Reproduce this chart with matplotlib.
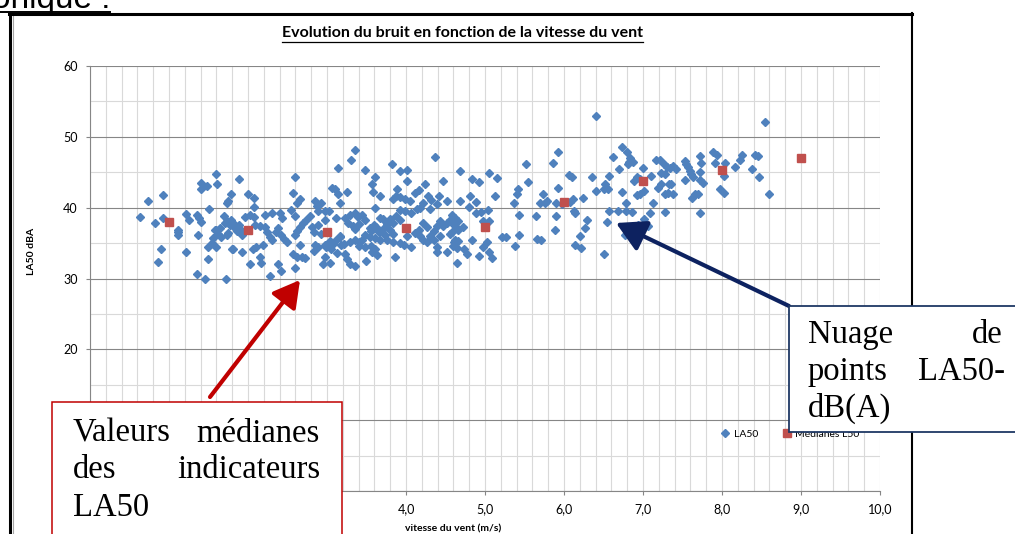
import matplotlib
matplotlib.use('Agg')
import matplotlib.pyplot as plt
from matplotlib.patches import Rectangle, FancyArrowPatch
from matplotlib.lines import Line2D
from matplotlib.ticker import MultipleLocator

# Nuage de points LA50 : (vitesse du vent m/s, LA50 dBA)
points_la50 = [
    (0.63, 38.7), (0.73, 40.9), (0.82, 37.8), (0.86, 32.4), (0.90, 34.2), (0.92, 41.8), (0.93, 38.5),
    (1.12, 36.9), (1.12, 36.5), (1.12, 36.1), (1.21, 33.8), (1.22, 39.1), (1.25, 38.2), (1.35, 39.0),
    (1.38, 38.5), (1.40, 38.0), (1.37, 36.2), (1.35, 30.6), (1.46, 29.9), (1.41, 43.5), (1.48, 43.1),
    (1.41, 42.6), (1.60, 44.7), (1.61, 43.3), (1.50, 39.8), (1.49, 32.7), (1.54, 35.0), (1.49, 34.5),
    (1.60, 34.4), (1.80, 34.2), (1.60, 36.9), (1.62, 36.3), (1.66, 35.8), (1.75, 36.4), (1.69, 38.8),
    (1.73, 38.1), (1.79, 38.3), (1.79, 42.0), (1.75, 40.9), (1.73, 40.6), (1.72, 30.0), (1.56, 35.7),
    (1.64, 37.2), (1.58, 36.8), (1.71, 37.9), (1.77, 37.6), (1.81, 37.9), (1.83, 37.2), (1.86, 36.7),
    (1.89, 37.6), (1.92, 36.2), (1.74, 36.2), (1.81, 34.2), (1.92, 33.7), (1.88, 44.1), (2.00, 42.0),
    (2.07, 41.3), (2.07, 40.1), (1.96, 38.7), (2.03, 38.9), (2.07, 38.7), (1.92, 36.7),
    # 2 - 3.2 m/s
    (2.03, 32.1), (2.06, 34.1), (2.10, 34.4), (2.15, 33.1), (2.16, 32.2), (2.19, 34.7), (2.21, 37.3),
    (2.24, 36.6), (2.28, 35.9), (2.30, 35.4), (2.28, 30.4), (2.31, 39.2), (2.41, 39.3), (2.43, 38.6),
    (2.38, 37.2), (2.36, 36.6), (2.42, 36.1), (2.46, 35.6), (2.49, 35.2), (2.38, 32.1), (2.42, 31.0),
    (2.54, 39.7), (2.57, 42.1), (2.59, 44.4), (2.62, 40.7), (2.66, 41.2), (2.59, 38.8), (2.59, 36.1),
    (2.62, 36.7), (2.66, 37.3), (2.70, 37.9), (2.74, 38.3), (2.79, 38.8), (2.81, 37.3), (2.66, 34.7),
    (2.57, 33.4), (2.62, 33.1), (2.68, 33.0), (2.72, 32.9), (2.59, 31.5), (2.85, 40.9), (2.87, 40.3),
    (2.92, 40.6), (2.89, 39.6), (2.97, 39.5), (3.03, 39.5), (2.97, 38.3), (3.11, 38.6), (2.88, 37.5),
    (2.83, 36.5), (2.92, 36.3), (2.85, 34.8), (2.89, 34.5), (2.83, 33.9), (2.97, 34.8), (3.04, 35.3),
    (2.99, 34.5), (3.05, 34.2), (3.07, 34.9), (3.11, 35.4), (3.16, 35.8), (3.18, 34.8), (2.97, 33.1),
    (2.95, 32.0), (3.04, 32.2), (3.13, 33.6), (3.06, 42.8), (3.10, 42.6), (3.14, 42.0), (3.16, 40.6),
    (3.14, 45.6), (2.09, 37.6), (2.15, 37.4), (2.22, 39.0),
    # 3.2 - 4.6 m/s
    (3.35, 48.1), (3.30, 46.7), (3.48, 45.3), (3.61, 44.4), (3.57, 43.4), (3.25, 42.2), (3.58, 42.2),
    (3.67, 41.6), (3.61, 40.0), (3.82, 46.1), (3.92, 45.2), (4.01, 45.3), (4.01, 43.7), (3.89, 42.6),
    (3.84, 41.2), (3.87, 41.6), (3.93, 41.5), (3.99, 41.2), (4.05, 41.0), (4.11, 42.1), (4.16, 42.5),
    (4.24, 43.3), (4.37, 47.1), (4.47, 43.8), (4.28, 41.6), (4.32, 41.1), (4.42, 41.7), (4.52, 40.9),
    (4.39, 40.5), (4.22, 40.6), (4.18, 40.0), (4.14, 39.8), (4.31, 39.8), (3.92, 39.7), (3.99, 39.5),
    (4.06, 39.3), (3.87, 38.8), (3.92, 38.3), (3.23, 38.6), (3.29, 39.0), (3.35, 39.2), (3.39, 38.7),
    (3.44, 39.0), (3.27, 37.9), (3.33, 37.4), (3.35, 37.0), (3.41, 37.7), (3.48, 38.2), (3.67, 38.6),
    (3.71, 38.4), (3.80, 38.4), (3.76, 37.7), (3.84, 37.9), (3.59, 37.6), (3.62, 37.3), (3.54, 37.2),
    (3.56, 36.7), (3.66, 36.6), (3.71, 37.0), (3.80, 36.9), (3.84, 36.3), (3.74, 36.1), (3.67, 35.5),
    (3.61, 35.7), (3.54, 35.9), (3.48, 36.2), (3.44, 35.5), (3.40, 35.1), (3.35, 35.5), (3.29, 35.1),
    (3.22, 34.9), (3.16, 36.0), (3.41, 34.6), (3.48, 34.4), (3.56, 34.6), (3.61, 34.2), (3.57, 33.7),
    (3.63, 33.3), (3.23, 33.4), (3.25, 32.7), (3.29, 32.0), (3.35, 31.7), (3.49, 32.5), (3.86, 33.1),
    (3.76, 35.5), (3.84, 35.1), (3.92, 35.0), (4.01, 36.0), (3.97, 34.7), (4.06, 34.5), (4.11, 36.4),
    (4.16, 36.9), (4.22, 37.8), (4.26, 37.3), (4.18, 36.0), (4.22, 35.5), (4.26, 35.1), (4.31, 36.0),
    (4.35, 36.7), (4.39, 37.4), (4.43, 38.1), (4.47, 37.4), (4.52, 37.9), (4.56, 38.3), (4.58, 38.9),
    (4.39, 34.5), (4.39, 33.8), (4.52, 33.8), (4.35, 35.5), (4.43, 36.0), (4.56, 36.3), (4.61, 35.1),
    # 4.6 - 6 m/s
    (4.68, 45.2), (4.84, 44.1), (4.92, 43.6), (5.05, 44.9), (5.15, 44.2), (5.52, 46.2), (5.86, 46.3),
    (5.92, 47.8), (5.54, 43.6), (5.92, 42.8), (5.42, 42.7), (5.40, 42.0), (5.37, 40.7), (5.13, 41.6),
    (4.81, 41.6), (4.89, 40.8), (4.80, 40.1), (4.68, 40.9), (4.89, 39.3), (4.95, 39.4), (5.04, 39.7),
    (5.73, 42.0), (5.70, 40.7), (5.76, 40.7), (5.78, 41.0), (5.90, 40.7), (5.43, 39.0), (5.65, 38.8),
    (5.90, 38.8), (4.62, 38.6), (4.66, 38.1), (4.60, 37.7), (4.64, 37.2), (4.72, 37.3), (4.58, 36.6),
    (4.66, 36.9), (4.98, 38.1), (5.05, 38.1), (4.62, 35.5), (4.66, 35.3), (4.83, 35.4), (5.03, 35.1),
    (4.60, 34.6), (4.64, 34.3), (4.73, 34.1), (4.77, 33.4), (4.98, 34.4), (5.05, 33.8), (4.92, 33.2),
    (5.09, 32.9), (4.64, 32.2), (5.21, 35.8), (5.26, 35.9), (5.43, 36.1), (5.38, 34.6), (5.66, 35.6),
    (5.71, 35.4), (5.89, 36.8),
    # 6 - 7.4 m/s
    (6.41, 52.9), (6.74, 48.5), (6.80, 47.9), (6.62, 47.1), (6.83, 47.0), (6.82, 46.5), (6.87, 46.5),
    (6.81, 46.1), (6.69, 45.5), (7.00, 45.6), (7.17, 46.7), (7.22, 46.7), (7.26, 46.2), (7.30, 45.8),
    (7.34, 45.6), (7.23, 44.9), (7.28, 44.7), (7.10, 44.5), (6.92, 44.3), (6.88, 43.7), (6.96, 44.0),
    (6.06, 44.6), (6.10, 44.3), (6.35, 44.3), (6.57, 44.5), (6.52, 43.4), (6.50, 42.6), (6.41, 42.4),
    (6.56, 42.6), (6.73, 42.2), (6.92, 41.8), (6.96, 41.9), (7.01, 42.3), (7.19, 42.8), (7.23, 43.3),
    (7.33, 43.3), (7.28, 41.9), (7.32, 42.1), (6.12, 41.2), (6.08, 40.8), (6.24, 41.3), (6.13, 39.5),
    (6.14, 39.3), (5.97, 40.5), (6.29, 38.2), (6.26, 37.1), (6.20, 36.0), (6.14, 34.7), (6.22, 34.3),
    (6.50, 33.5), (6.57, 39.6), (6.68, 39.6), (6.78, 40.7), (6.78, 39.6), (6.86, 39.4), (6.54, 38.0),
    (7.13, 40.7), (7.09, 39.2), (7.28, 39.4), (7.01, 38.4), (6.94, 37.5), (7.06, 37.4), (6.77, 36.2),
    # 7.4 - 8.6 m/s
    (8.55, 52.1), (7.38, 45.9), (7.42, 45.4), (7.53, 46.6), (7.55, 46.1), (7.57, 45.7), (7.59, 45.2),
    (7.61, 44.7), (7.63, 44.3), (7.53, 43.9), (7.72, 47.3), (7.74, 46.3), (7.72, 45.0), (7.72, 43.9),
    (7.76, 43.5), (7.89, 47.8), (7.94, 47.5), (7.91, 46.3), (8.04, 46.3), (8.02, 44.5), (8.16, 45.7),
    (8.23, 46.8), (8.25, 47.4), (8.38, 45.5), (8.42, 47.5), (8.46, 47.3), (8.47, 44.4), (8.60, 41.9),
    (7.36, 43.4), (7.38, 42.0), (7.66, 42.0), (7.70, 42.0), (7.62, 41.4), (7.97, 42.7), (8.03, 42.1),
    (7.72, 39.3),
]
vitesse = [p[0] for p in points_la50]
la50 = [p[1] for p in points_la50]

# Medianes L50 par classe de vitesse
mediane_vitesse = [1, 2, 3, 4, 5, 6, 7, 8, 9]
mediane_la50 = [38.0, 36.9, 36.5, 37.2, 37.3, 40.8, 43.8, 45.3, 47.0]

x_ticks = [0, 1, 2, 3, 4, 5, 6, 7, 8, 9, 10]
x_tick_labels = ['0,0', '1,0', '2,0', '3,0', '4,0', '5,0', '6,0', '7,0', '8,0', '9,0', '10,0']
y_ticks = [0, 10, 20, 30, 40, 50, 60]

W, H = 1015, 534  # taille de l'image en pixels


def fx(px):
    return px / W


def fy(py):
    return 1 - py / H


fig = plt.figure(figsize=(W / 100, H / 100), dpi=100)
fig.patch.set_facecolor('white')

ax = fig.add_axes([fx(90), fy(491), (880 - 90) / W, (491 - 66) / H])
ax.set_xlim(0, 10)
ax.set_ylim(0, 60)

# grille facon Excel
ax.xaxis.set_minor_locator(MultipleLocator(0.2))
ax.yaxis.set_minor_locator(MultipleLocator(5))
ax.grid(which='both', axis='x', color='#d9d9d9', lw=0.8)
ax.grid(which='minor', axis='y', color='#d9d9d9', lw=0.8)
ax.grid(which='major', axis='y', color='#868686', lw=0.8)
ax.set_axisbelow(True)
for s in ['top', 'right']:
    ax.spines[s].set_visible(False)
for s in ['left', 'bottom']:
    ax.spines[s].set_color('#868686')
    ax.spines[s].set_linewidth(0.8)

ax.set_xticks(x_ticks)
ax.set_xticklabels(x_tick_labels)
ax.set_yticks(y_ticks)
ax.set_yticklabels([str(v) for v in y_ticks])
ax.tick_params(which='major', length=3, color='#868686', labelsize=9, pad=6)
ax.tick_params(which='minor', length=0)
for lab in ax.get_xticklabels() + ax.get_yticklabels():
    lab.set_family('Lato')

l1, = ax.plot(vitesse, la50, linestyle='none', marker='D', ms=3.8, color='#4f81bd', label='LA50')
l2, = ax.plot(mediane_vitesse, mediane_la50, linestyle='none', marker='s', ms=6, color='#c0504d',
              label='Médianes L50')

ax.legend(handles=[l1, l2], loc='center left', bbox_to_anchor=(fx(719), fy(434)),
          bbox_transform=fig.transFigure, ncol=2, frameon=False,
          prop={'family': 'Lato', 'size': 7.5}, handlelength=1.2, handletextpad=0.2,
          columnspacing=2.2, borderpad=0, borderaxespad=0)

# titres des axes
fig.text(fx(453), fy(529), 'vitesse du vent (m/s)', ha='center', va='center',
         family='Lato', fontweight='bold', fontsize=7.5)
fig.text(fx(32), fy(251), 'LA50 dBA', ha='center', va='center', rotation=90,
         family='Lato', fontweight='bold', fontsize=7.5)

title = fig.text(fx(462), fy(33), 'Evolution du bruit en fonction de la vitesse du vent',
                 ha='center', va='center', family='Lato', fontweight='bold', fontsize=11.5)
head = fig.text(fx(110), fy(8), 'onique :', ha='right', va='baseline',
                family='Liberation Sans', fontsize=24)

# cadre du graphique
fig.add_artist(Line2D([fx(10), fx(10)], [fy(14), fy(540)], color='black', lw=2.2))
fig.add_artist(Line2D([fx(12.5), fx(12.5)], [fy(16), fy(540)], color='#a6a6a6', lw=0.8))
fig.add_artist(Line2D([fx(9), fx(912)], [fy(14), fy(14)], color='black', lw=2.2))
fig.add_artist(Line2D([fx(912), fx(912)], [fy(13), fy(540)], color='black', lw=1.5))

# fleches
fig.add_artist(FancyArrowPatch((fx(210), fy(397)), (fx(300), fy(280)), transform=fig.transFigure,
                               arrowstyle='-|>,head_length=0.8,head_width=0.45', mutation_scale=20,
                               lw=3, color='#c00000', shrinkA=0, shrinkB=0, zorder=6))
fig.add_artist(FancyArrowPatch((fx(789), fy(306)), (fx(616), fy(223)), transform=fig.transFigure,
                               arrowstyle='-|>,head_length=0.9,head_width=0.5', mutation_scale=20,
                               lw=3, color='#0d2260', shrinkA=0, shrinkB=0, zorder=6))

# encadres de commentaires
fig.add_artist(Rectangle((fx(52), fy(545)), (342 - 52) / W, (545 - 402) / H, transform=fig.transFigure,
                         facecolor='white', edgecolor='#c00000', lw=1.1, zorder=7))
fig.add_artist(Rectangle((fx(789), fy(432)), (1025 - 789) / W, (432 - 306) / H, transform=fig.transFigure,
                         facecolor='white', edgecolor='#1f3864', lw=1.3, zorder=7))

serif = dict(family='Liberation Serif', fontsize=23.5, va='baseline', zorder=8)
fig.text(fx(73), fy(441.5), 'Valeurs', ha='left', **serif)
fig.text(fx(320), fy(441.5), 'médianes', ha='right', **serif)
fig.text(fx(73), fy(478.5), 'des', ha='left', **serif)
fig.text(fx(320), fy(478.5), 'indicateurs', ha='right', **serif)
fig.text(fx(73), fy(516), 'LA50', ha='left', **serif)

fig.text(fx(808), fy(343), 'Nuage', ha='left', **serif)
fig.text(fx(1003), fy(343), 'de', ha='right', **serif)
fig.text(fx(808), fy(380), 'points', ha='left', **serif)
fig.text(fx(1005), fy(380), 'LA50-', ha='right', **serif)
fig.text(fx(808), fy(417), 'dB(A)', ha='left', **serif)

# soulignements
fig.canvas.draw()
bb = title.get_window_extent()
fig.add_artist(Line2D([bb.x0 / W, bb.x1 / W], [fy(42), fy(42)], color='black', lw=0.9))
bb = head.get_window_extent()
fig.add_artist(Line2D([0, bb.x1 / W], [fy(11.7), fy(11.7)], color='black', lw=1.4))

fig.savefig('out.png', dpi=100)
